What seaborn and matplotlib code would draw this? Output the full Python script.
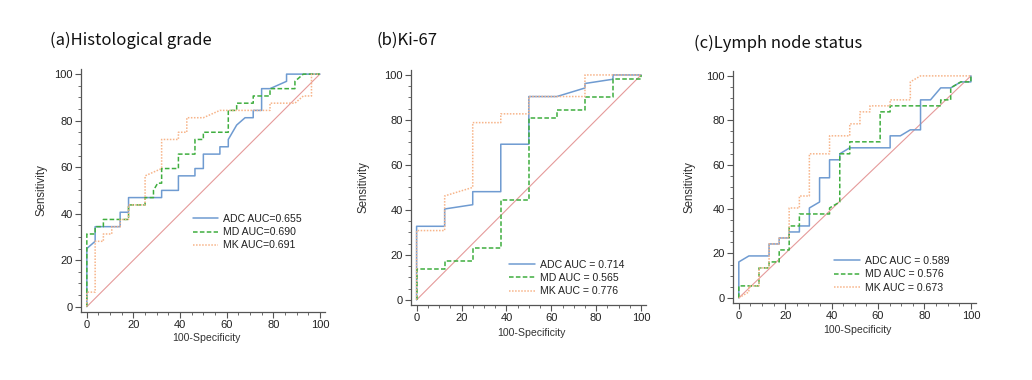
import numpy as np
import pandas as pd
import seaborn as sns
import matplotlib.pyplot as plt
from matplotlib.ticker import MultipleLocator

# ---- data ----
# (a) Histological grade
a_adc_x = [0, 0, 3.57, 3.57, 14.3, 14.3, 17.9, 17.9, 32.1, 32.1, 39.3, 39.3, 46.4, 46.4, 50, 50,
           57.1, 57.1, 60.7, 60.7, 64.3, 67.9, 71.4, 71.4, 75, 75, 78.6, 85.7, 85.7, 100]
a_adc_y = [0, 25, 28.1, 34.4, 34.4, 40.6, 40.6, 46.9, 46.9, 50, 50, 56.25, 56.25, 59.4, 59.4, 65.6,
           65.6, 68.75, 68.75, 71.9, 78.1, 81.25, 81.25, 84.4, 84.4, 93.75, 93.75, 96.9, 100, 100]
a_md_x = [0, 0, 3.57, 3.57, 7.1, 7.1, 17.9, 17.9, 25, 25, 28.6, 28.6, 30.4, 32.1, 32.1, 39.3, 39.3,
          46.4, 46.4, 50, 50, 60.7, 60.7, 64.3, 64.3, 71.4, 71.4, 78.6, 78.6, 89.3, 89.3, 92.9, 100]
a_md_y = [0, 31.25, 31.25, 34.4, 34.4, 37.5, 37.5, 43.75, 43.75, 46.9, 46.9, 50, 53.1, 53.1, 59.4,
          59.4, 65.6, 65.6, 71.9, 71.9, 75, 75, 84.4, 84.4, 87.5, 87.5, 90.6, 90.6, 93.75, 93.75,
          96.9, 100, 100]
a_mk_x = [0, 0, 3.57, 3.57, 7.1, 7.1, 10.7, 10.7, 14.3, 14.3, 17.9, 17.9, 25, 25, 32.1, 32.1, 39.3,
          39.3, 42.9, 42.9, 50, 57.1, 78.6, 78.6, 89.3, 92.9, 96.4, 96.4, 100]
a_mk_y = [0, 6.25, 6.25, 28.1, 28.1, 31.25, 31.25, 34.4, 34.4, 37.5, 37.5, 43.75, 43.75, 56.25,
          59.4, 71.9, 71.9, 75, 75, 81.25, 81.25, 84.4, 84.4, 87.5, 87.5, 90.6, 90.6, 100, 100]

# (b) Ki-67
b_adc_x = [0, 0, 12.5, 12.5, 25, 25, 37.5, 37.5, 50, 50, 62.5, 75, 75, 87.5, 87.5, 100]
b_adc_y = [0, 32.7, 32.7, 40.4, 42.3, 48.1, 48.1, 69.2, 69.2, 90.4, 90.4, 94.2, 96.2, 98.1, 100, 100]
b_md_x = [0, 0, 12.5, 12.5, 25, 25, 37.5, 37.5, 50, 50, 62.5, 62.5, 75, 75, 87.5, 87.5, 100, 100]
b_md_y = [0, 13.5, 13.5, 17.3, 17.3, 23.1, 23.1, 44.2, 44.2, 80.8, 80.8, 84.6, 84.6, 90.4, 90.4,
          98.1, 98.1, 100]
b_mk_x = [0, 0, 12.5, 12.5, 25, 25, 37.5, 37.5, 50, 50, 75, 75, 100]
b_mk_y = [0, 30.8, 30.8, 46.2, 50, 78.8, 78.8, 82.7, 82.7, 90.4, 90.4, 100, 100]

# (c) Lymph node status
c_adc_x = [0, 0, 4.35, 13.04, 13.04, 17.4, 17.4, 21.7, 21.7, 26.1, 26.1, 30.4, 30.4, 34.8, 34.8,
           39.1, 39.1, 43.5, 43.5, 47.8, 65.2, 65.2, 69.6, 73.9, 78.3, 78.3, 82.6, 87, 91.3, 95.7,
           100, 100]
c_adc_y = [0, 16.2, 18.9, 18.9, 24.3, 24.3, 27, 27, 29.7, 29.7, 32.4, 32.4, 40.5, 43.2, 54.1, 54.1,
           62.2, 62.2, 64.9, 67.6, 67.6, 73, 73, 75.7, 75.7, 89.2, 89.2, 94.6, 94.6, 97.3, 97.3, 100]
c_md_x = [0, 0, 8.7, 8.7, 13.04, 13.04, 17.4, 17.4, 21.7, 21.7, 26.1, 26.1, 39.1, 39.1, 43.5, 43.5,
          47.8, 47.8, 60.9, 60.9, 65.2, 65.2, 87, 87, 91.3, 91.3, 95.7, 100, 100]
c_md_y = [0, 5.4, 5.4, 13.5, 13.5, 16.2, 16.2, 21.6, 21.6, 32.4, 32.4, 37.8, 37.8, 40.5, 43.2, 64.9,
          64.9, 70.3, 70.3, 83.8, 83.8, 86.5, 86.5, 89.2, 89.2, 94.6, 97.3, 97.3, 100]
c_mk_x = [0, 4.35, 4.35, 8.7, 8.7, 13.04, 13.04, 17.4, 17.4, 21.7, 21.7, 26.1, 26.1, 30.4, 30.4,
          39.1, 39.1, 47.8, 47.8, 52.2, 52.2, 56.5, 56.5, 65.2, 65.2, 73.9, 73.9, 78.3, 100]
c_mk_y = [0, 2.7, 5.4, 5.4, 13.5, 13.5, 24.3, 24.3, 27, 27, 40.5, 40.5, 45.9, 45.9, 64.9, 64.9, 73,
          73, 78.4, 78.4, 83.8, 83.8, 86.5, 86.5, 89.2, 89.2, 97.3, 100, 100]

titles = ["(a)Histological grade", "(b)Ki-67", "(c)Lymph node status"]
a_labels = ["ADC AUC=0.655", "MD AUC=0.690", "MK AUC=0.691"]
b_labels = ["ADC AUC = 0.714", "MD AUC = 0.565", "MK AUC = 0.776"]
c_labels = ["ADC AUC = 0.589", "MD AUC = 0.576", "MK AUC = 0.673"]

panels = [
    (titles[0], a_labels, [(a_adc_x, a_adc_y), (a_md_x, a_md_y), (a_mk_x, a_mk_y)]),
    (titles[1], b_labels, [(b_adc_x, b_adc_y), (b_md_x, b_md_y), (b_mk_x, b_mk_y)]),
    (titles[2], c_labels, [(c_adc_x, c_adc_y), (c_md_x, c_md_y), (c_mk_x, c_mk_y)]),
]

sns.set_theme(style="white")
plt.rcParams['font.family'] = ['Liberation Sans', 'DejaVu Sans']

fig = plt.figure(figsize=(10.32, 3.8), dpi=100)

# axes boxes in pixels: left, right, top, bottom
boxes = [(81, 325, 69, 312), (411, 646, 70, 305), (733, 976, 71, 303)]
title_pos = [(50, 40), (376, 40), (694, 43)]
ylab_x = [42, 363, 690]
xlab_y = [338, 333, 330]
leg_anchor = [(0.44, 0.42), (0.40, 0.21), (0.40, 0.22)]

colors = ["#6f9bd1", "#3fae3f", "#f7b489"]
styles = ["-", (0, (3, 1.5)), (0, (1, 1))]
W, H = 1032, 380

for i, (title, labels, curves) in enumerate(panels):
    l, r, t, b = boxes[i]
    ax = fig.add_axes([l / W, 1 - b / H, (r - l) / W, (b - t) / H])
    sns.lineplot(x=[0, 100], y=[0, 100], ax=ax, color="#e59a9a", linewidth=0.8)
    for (xs, ys), lab, col, ls in zip(curves, labels, colors, styles):
        df = pd.DataFrame({"x": xs, "y": ys})
        sns.lineplot(data=df, x="x", y="y", ax=ax, sort=False, estimator=None,
                     color=col, linestyle=ls, linewidth=1.1, label=lab)
    ax.set_xlim(-2.5, 102.2)
    ax.set_ylim(-2.3, 102.2)
    ax.set_xticks([0, 20, 40, 60, 80, 100])
    ax.set_yticks([0, 20, 40, 60, 80, 100])
    ax.xaxis.set_minor_locator(MultipleLocator(5))
    ax.yaxis.set_minor_locator(MultipleLocator(5))
    ax.tick_params(which="major", direction="out", length=4, width=0.8, color="#555555",
                   labelsize=8, labelcolor="#222222", pad=2, bottom=True, left=True)
    ax.tick_params(which="minor", direction="out", length=2.5, width=0.6, color="#555555",
                   bottom=True, left=True)
    for s in ["top", "right"]:
        ax.spines[s].set_visible(False)
    for s in ["left", "bottom"]:
        ax.spines[s].set_color("#555555")
        ax.spines[s].set_linewidth(0.9)
    ax.set_xlabel("")
    ax.set_ylabel("")
    leg = ax.legend(loc="upper left", bbox_to_anchor=leg_anchor[i], frameon=False,
                    fontsize=7.6, handlelength=2.4, handletextpad=0.5, labelspacing=0.3,
                    borderaxespad=0)
    for txt in leg.get_texts():
        txt.set_color("#222222")
    fig.text(title_pos[i][0] / W, 1 - title_pos[i][1] / H, title, fontsize=12,
             family=['Noto Sans CJK SC', 'DejaVu Sans'], va="center", ha="left",
             color="#111111")
    fig.text(ylab_x[i] / W, 1 - ((t + b) / 2) / H, "Sensitivity", fontsize=8.3,
             rotation=90, va="center", ha="center", color="#333333")
    fig.text(((l + r) / 2 + 3) / W, 1 - xlab_y[i] / H, "100-Specificity", fontsize=7.6,
             va="center", ha="center", color="#333333")

fig.savefig("out.png", dpi=100)
